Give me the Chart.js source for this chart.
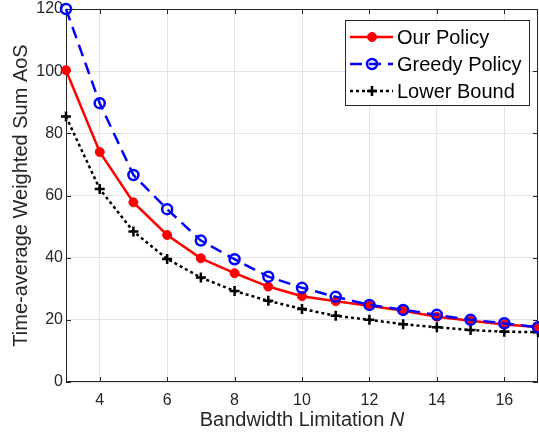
<!DOCTYPE html>
<html>
<head>
<meta charset="UTF-8" />
<script src="https://cdn.jsdelivr.net/npm/chart.js"></script>
<style>
  body { margin: 0; background: #fff; }
  canvas { display: block; }
</style>
</head>
<body>
<canvas id="aosChart" width="539" height="436"></canvas>
<script>
  // values
  const bandwidth = [3, 4, 5, 6, 7, 8, 9, 10, 11, 12, 13, 14, 15, 16, 17];
  const ourPolicy = [100.3, 74.0, 57.8, 47.3, 39.8, 35.0, 30.7, 27.6, 26.0, 24.5, 22.9, 21.0, 19.7, 18.5, 17.7];
  const greedyPolicy = [120.0, 89.7, 66.6, 55.6, 45.5, 39.5, 33.9, 30.3, 27.4, 24.8, 23.2, 21.6, 20.0, 18.9, 17.6];
  const lowerBound = [85.4, 62.1, 48.4, 39.6, 33.6, 29.3, 26.1, 23.5, 21.3, 20.0, 18.6, 17.6, 16.7, 16.2, 16.0];
  const xTicks = [4, 6, 8, 10, 12, 14, 16];
  const yTicks = [0, 20, 40, 60, 80, 100, 120];
  const seriesNames = ['Our Policy', 'Greedy Policy', 'Lower Bound'];

  const FONT = "'Liberation Sans', Arial, Helvetica, sans-serif";
  const AXIS = '#262626';

  const pts = arr => arr.map((v, i) => ({ x: bandwidth[i], y: v }));

  const noPad = s => { s.paddingTop = 0; s.paddingBottom = 0; s.paddingLeft = 0; s.paddingRight = 0; };

  // MATLAB style box with inward ticks on all sides
  const boxPlugin = {
    id: 'box',
    beforeDatasetsDraw(chart) {
      const { ctx, chartArea: a, scales: { x, y } } = chart;
      ctx.save();
      ctx.strokeStyle = AXIS;
      ctx.lineWidth = 1;
      ctx.strokeRect(a.left + 0.5, a.top + 0.5, a.right - a.left - 1, a.bottom - a.top - 1);
      ctx.beginPath();
      xTicks.forEach(t => {
        const px = Math.round(x.getPixelForValue(t)) + 0.5;
        ctx.moveTo(px, a.bottom); ctx.lineTo(px, a.bottom - 5);
        ctx.moveTo(px, a.top); ctx.lineTo(px, a.top + 5);
      });
      yTicks.forEach(t => {
        const py = Math.round(y.getPixelForValue(t)) + 0.5;
        ctx.moveTo(a.left, py); ctx.lineTo(a.left + 5, py);
        ctx.moveTo(a.right, py); ctx.lineTo(a.right - 5, py);
      });
      ctx.stroke();
      ctx.restore();
    },
    afterDraw(chart) {
      const { ctx, chartArea: a } = chart;
      ctx.save();
      // x title with italic N
      ctx.fillStyle = AXIS;
      ctx.textBaseline = 'middle';
      const part1 = 'Bandwidth Limitation ';
      ctx.font = '20px ' + FONT;
      const w1 = ctx.measureText(part1).width;
      ctx.font = 'italic 20px ' + FONT;
      const w2 = ctx.measureText('N').width;
      const cx = (a.left + a.right) / 2;
      const sx = cx - (w1 + w2) / 2;
      ctx.font = '20px ' + FONT;
      ctx.fillText(part1, sx, 420);
      ctx.font = 'italic 20px ' + FONT;
      ctx.fillText('N', sx + w1, 420);

      // legend
      const lx = 345, ly = 20, lw = 184, lh = 85;
      ctx.fillStyle = '#fff';
      ctx.fillRect(lx, ly, lw, lh);
      ctx.strokeStyle = AXIS;
      ctx.lineWidth = 1;
      ctx.strokeRect(lx + 0.5, ly + 0.5, lw, lh);
      const rows = [37, 64, 91];
      chart.data.datasets.forEach((ds, i) => {
        const yy = rows[i];
        ctx.save();
        ctx.strokeStyle = ds.borderColor;
        ctx.lineWidth = ds.borderWidth;
        ctx.setLineDash(ds.borderDash || []);
        ctx.beginPath();
        ctx.moveTo(350, yy); ctx.lineTo(393, yy);
        ctx.stroke();
        ctx.restore();
        ctx.save();
        ctx.fillStyle = ds.pointBackgroundColor;
        ctx.strokeStyle = ds.borderColor;
        ctx.lineWidth = ds.pointBorderWidth;
        ctx.setLineDash([]);
        Chart.helpers.drawPoint(ctx, {
          pointStyle: ds.pointStyle, radius: ds.pointRadius, borderWidth: ds.pointBorderWidth, rotation: 0
        }, 372, yy);
        ctx.restore();
        ctx.fillStyle = '#000';
        ctx.font = '20px ' + FONT;
        ctx.textBaseline = 'middle';
        ctx.fillText(ds.label, 397, yy + 1);
      });
      ctx.restore();
    }
  };

  new Chart(document.getElementById('aosChart'), {
    type: 'line',
    data: {
      datasets: [
        {
          label: seriesNames[0], data: pts(ourPolicy), order: 1,
          borderColor: '#ff0000', backgroundColor: '#ff0000', borderWidth: 2.5,
          pointStyle: 'circle', pointRadius: 4.5, pointBorderWidth: 1,
          pointBackgroundColor: '#ff0000', clip: false
        },
        {
          label: seriesNames[1], data: pts(greedyPolicy), order: 0,
          borderColor: '#0000ff', backgroundColor: '#0000ff', borderWidth: 2.5, borderDash: [12, 7],
          pointStyle: 'circle', pointRadius: 5, pointBorderWidth: 2.5,
          pointBackgroundColor: 'rgba(0,0,0,0)', clip: false
        },
        {
          label: seriesNames[2], data: pts(lowerBound), order: 2,
          borderColor: '#000000', backgroundColor: '#000000', borderWidth: 2.5, borderDash: [3, 3],
          pointStyle: 'cross', pointRadius: 5, pointBorderWidth: 2.5,
          pointBackgroundColor: '#000000', clip: false
        }
      ]
    },
    options: {
      responsive: false,
      animation: false,
      layout: { autoPadding: false, padding: { top: 9, right: 1, left: 0, bottom: 0 } },
      plugins: { legend: { display: false }, tooltip: { enabled: false } },
      scales: {
        x: {
          type: 'linear', min: 3, max: 17,
          afterBuildTicks: s => { s.ticks = xTicks.map(v => ({ value: v })); },
          afterFit: s => { s.height = 54; noPad(s); },
          grid: { color: '#e3e3e3', drawTicks: false },
          border: { display: false },
          ticks: { color: AXIS, font: { family: FONT, size: 16 }, padding: 9, maxRotation: 0 }
        },
        y: {
          min: 0, max: 120,
          afterBuildTicks: s => { s.ticks = yTicks.map(v => ({ value: v })); },
          afterFit: s => { s.width = 66; noPad(s); },
          grid: { color: '#e3e3e3', drawTicks: false },
          border: { display: false },
          ticks: { color: AXIS, font: { family: FONT, size: 16 }, padding: 3 },
          title: {
            display: true, text: 'Time-average Weighted Sum AoS', color: AXIS,
            font: { family: FONT, size: 20 }, padding: { top: 9, bottom: 0 }
          }
        }
      }
    },
    plugins: [boxPlugin]
  });
</script>
</body>
</html>
